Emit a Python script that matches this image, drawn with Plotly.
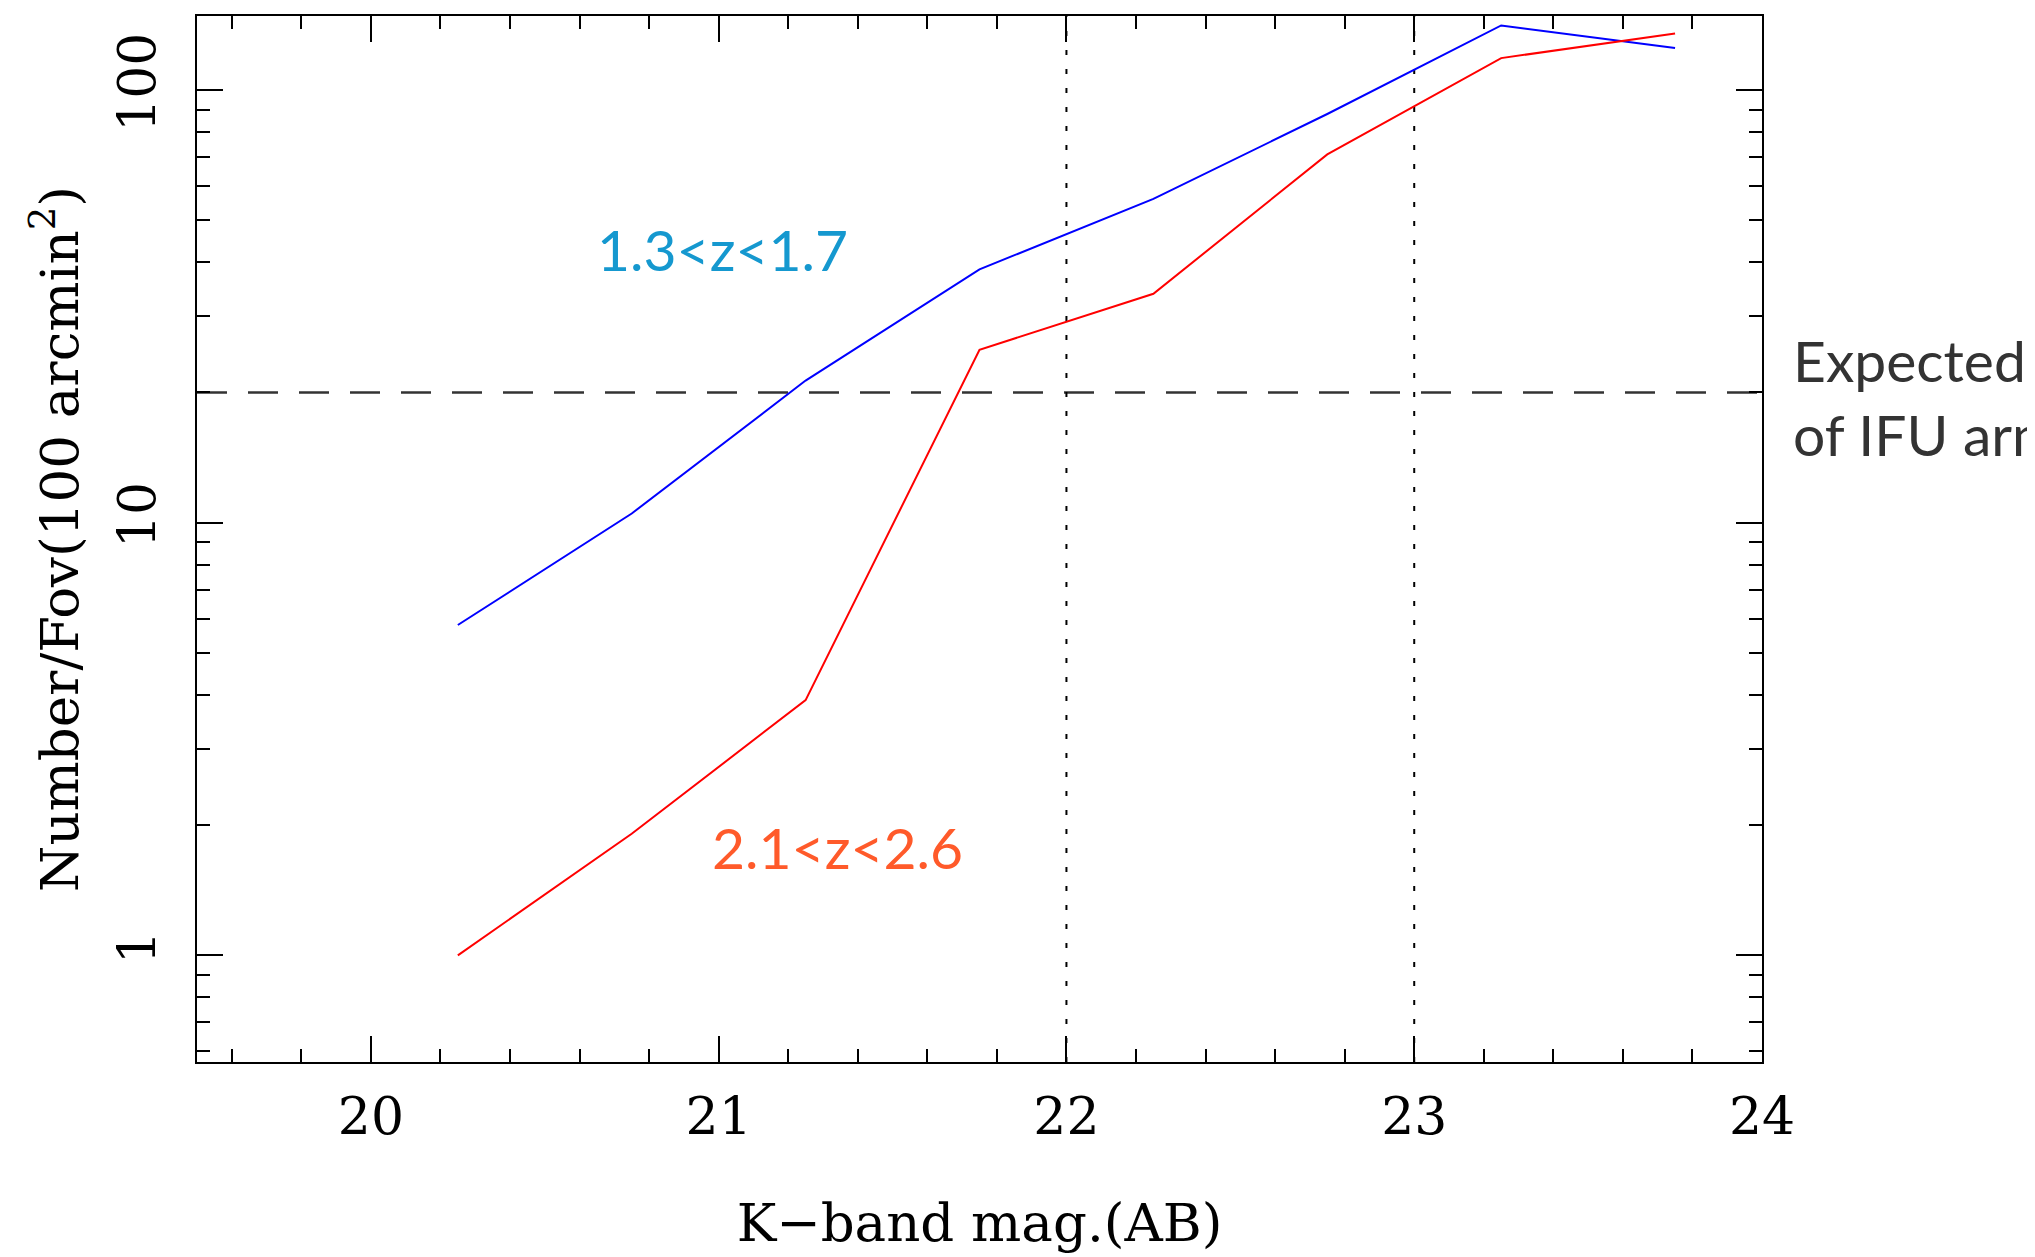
import plotly.graph_objects as go

# ---- data ----
mag = [20.25, 20.75, 21.25, 21.75, 22.25, 22.75, 23.25, 23.75]
n_z13_17 = [5.8, 10.5, 21.3, 38.5, 56.0, 88.0, 141.0, 125.0]
n_z21_26 = [1.0, 1.91, 3.89, 25.1, 33.8, 71.0, 118.5, 135.0]
ifu_expected = 20
mag_marks = [22, 23]
x_tickvals = [20, 21, 22, 23, 24]
y_tickvals = [1, 10, 100]
y_ticktext = ["1", "10", "100"]

fig = go.Figure()

fig.add_trace(go.Scatter(x=mag, y=n_z13_17, mode="lines",
                         line=dict(color="#0000ff", width=2), name="1.3<z<1.7",
                         showlegend=False))
fig.add_trace(go.Scatter(x=mag, y=n_z21_26, mode="lines",
                         line=dict(color="#ff0000", width=2), name="2.1<z<2.6",
                         showlegend=False))

# horizontal dashed line: expected number of IFU arms
fig.add_shape(type="line", xref="paper", x0=0, x1=1, yref="y",
              y0=ifu_expected, y1=ifu_expected,
              line=dict(color="#333333", width=2.5, dash="30px,21px"), layer="below")
# vertical dotted lines
for m in mag_marks:
    fig.add_shape(type="line", xref="x", x0=m, x1=m, yref="paper", y0=0, y1=1,
                  line=dict(color="#000000", width=2, dash="5px,14px"), layer="below")

axis_font = dict(family="DejaVu Serif", size=52, color="#000000")
title_font = dict(family="DejaVu Serif", size=53, color="#000000")
common = dict(showline=True, linecolor="#000000", linewidth=2, mirror="ticks",
              ticks="inside", tickcolor="#000000", tickwidth=2, ticklen=26,
              showgrid=False, zeroline=False, tickfont=axis_font)

fig.update_xaxes(range=[19.5, 24], tickvals=x_tickvals,
                 ticktext=[str(v) for v in x_tickvals],
                 minor=dict(ticks="inside", ticklen=13, tickwidth=2,
                            tickcolor="#000000", dtick=0.2, tick0=20, showgrid=False),
                 title=dict(text="K\u2212band mag.(AB)", font=title_font, standoff=58),
                 ticklabelstandoff=8,
                 **common)
fig.update_yaxes(type="log", range=[-0.2465, 2.171], tickvals=y_tickvals,
                 ticktext=y_ticktext, tickangle=-90,
                 minor=dict(ticks="inside", ticklen=13, tickwidth=2,
                            tickcolor="#000000", dtick="D1", showgrid=False),
                 title=dict(text="Number/Fov(100 arcmin<sup>2</sup>)", font=title_font,
                            standoff=12),
                 ticklabelstandoff=19,
                 **common)

fig.add_annotation(x=21.01, y=1.632, xref="x", yref="y", yanchor="middle", xanchor="center",
                   text="1.3<z<1.7", showarrow=False,
                   font=dict(family="Lato", size=57, color="#1598cf"))
fig.add_annotation(x=21.343, y=0.251, xref="x", yref="y", yanchor="middle", xanchor="center",
                   text="2.1<z<2.6", showarrow=False,
                   font=dict(family="Lato", size=57, color="#ff5a2a"))
fig.add_annotation(x=1783, y=352, xref="paper", yref="paper", showarrow=False,
                   text="Expected number", xanchor="left", yanchor="middle",
                   font=dict(family="Lato", size=57, color="#333333"))
fig.add_annotation(x=1783, y=426, xref="paper", yref="paper", showarrow=False,
                   text="of IFU arms", xanchor="left", yanchor="middle",
                   font=dict(family="Lato", size=57, color="#333333"))

# page has an 8px body margin; size the figure to fit the window
L, R, T, B = 189, 273, 8, 195
W, H = 2027, 1249
pw, ph = W - L - R, H - T - B
for a in fig.layout.annotations[2:]:
    a.x = (a.x - L) / pw
    a.y = 1 - (a.y - T) / ph

fig.update_layout(width=W, height=H, margin=dict(l=L, r=R, t=T, b=B, autoexpand=False),
                  plot_bgcolor="#ffffff", paper_bgcolor="#ffffff", showlegend=False)

fig.write_html("out.html")
